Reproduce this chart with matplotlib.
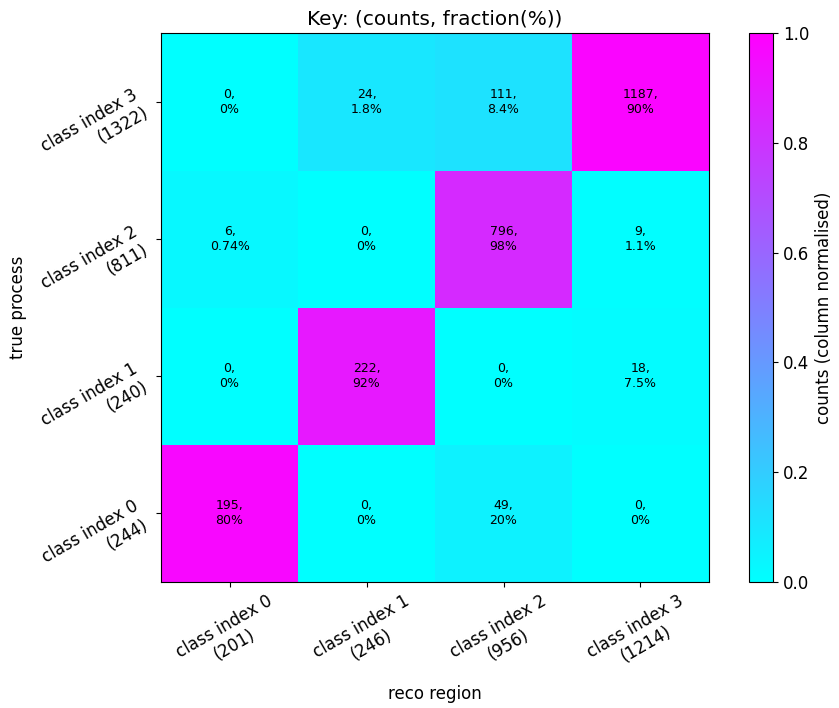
import numpy as np
import matplotlib.pyplot as plt

plt.rcParams["font.size"] = 12

# counts[true, reco]
classes = ["class index 0", "class index 1", "class index 2", "class index 3"]
counts = np.array([
    [195, 0, 49, 0],
    [0, 222, 0, 18],
    [6, 0, 796, 9],
    [0, 24, 111, 1187],
])

row_tot = counts.sum(axis=1)
col_tot = counts.sum(axis=0)
col_norm = counts / col_tot[None, :]
row_frac = 100.0 * counts / row_tot[:, None]

fig = plt.figure(figsize=(8.39, 7.08), dpi=100)
ax = fig.add_axes([0.192, 0.178, 0.653, 0.775])
cax = fig.add_axes([0.893, 0.178, 0.0286, 0.775])

im = ax.imshow(col_norm, origin="lower", cmap="cool", vmin=0, vmax=1, aspect="auto")
cb = fig.colorbar(im, cax=cax)
cb.set_label("counts (column normalised)")

n = len(classes)
for i in range(n):
    for j in range(n):
        ax.text(j, i, f"{counts[i, j]},\n{row_frac[i, j]:.2g}%",
                ha="center", va="center", fontsize=9)

ax.set_xticks(range(n))
ax.set_xticklabels([f"{c}\n({t})" for c, t in zip(classes, col_tot)], rotation=30)
ax.set_yticks(range(n))
ax.set_yticklabels([f"{c}\n({t})" for c, t in zip(classes, row_tot)], rotation=30)
ax.set_xlabel("reco region", labelpad=4)
ax.set_ylabel("true process", labelpad=8)
ax.set_title("Key: (counts, fraction(%))")

fig.savefig("out.png", dpi=100)
